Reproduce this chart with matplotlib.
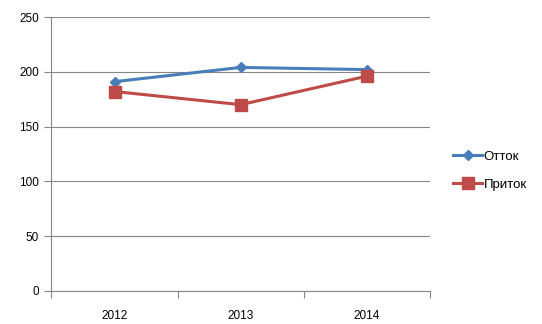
import numpy as np
import matplotlib
matplotlib.use("Agg")
import matplotlib.pyplot as plt

years = ["2012", "2013", "2014"]
ottok = [191, 204, 202]
pritok = [182, 170, 196]

plt.rcParams["font.family"] = ["Liberation Sans", "DejaVu Sans"]

fig = plt.figure(figsize=(5.42, 3.24), dpi=100)
ax = fig.add_axes([0.095, 0.102, 0.698, 0.8455])

x = np.arange(len(years)) + 0.5
ax.plot(x, ottok, color="#4a7ebb", lw=2.2, marker="D", ms=5.5, label="Отток", zorder=3)
ax.plot(x, pritok, color="#be4b48", lw=2.2, marker="s", ms=8, label="Приток", zorder=3)

ax.set_xlim(0, len(years))
ax.set_ylim(0, 250)
ax.set_yticks(range(0, 251, 50))
ax.set_xticks(range(len(years) + 1))
ax.set_xticklabels([])
ax.set_xticks(x, minor=True)
ax.set_xticklabels(years, minor=True)
ax.tick_params(axis="x", which="minor", length=0, pad=13.5, labelsize=8.5)
ax.tick_params(axis="x", which="major", length=5, color="#868686")
ax.tick_params(axis="y", length=5, color="#868686", labelsize=8.5, pad=4)

ax.grid(axis="y", color="#868686", lw=0.8)
ax.set_axisbelow(True)
for s in ["top", "right"]:
    ax.spines[s].set_visible(False)
for s in ["left", "bottom"]:
    ax.spines[s].set_color("#868686")
    ax.spines[s].set_linewidth(0.8)

ax.legend(loc="center left", bbox_to_anchor=(1.03, 0.44), frameon=False,
          fontsize=9.5, handlelength=2.2, handletextpad=0.1, labelspacing=1.2)

fig.savefig("out.png", dpi=100)
